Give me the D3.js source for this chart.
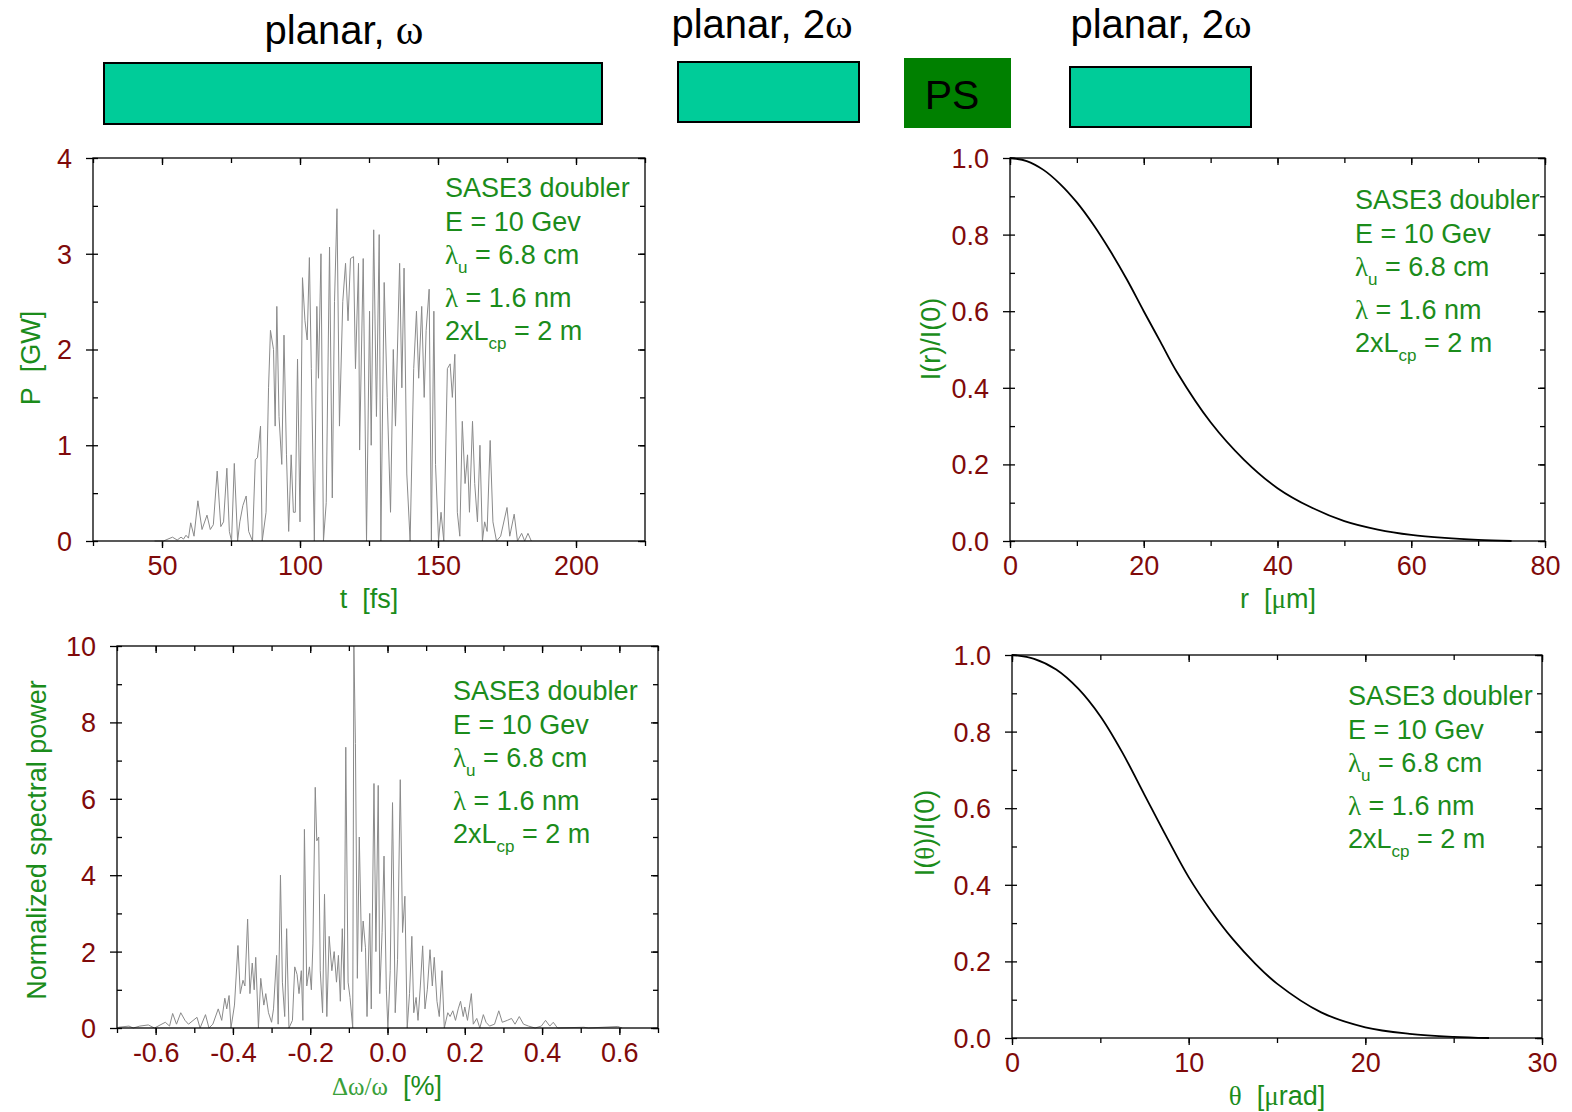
<!DOCTYPE html>
<html>
<head>
<meta charset="utf-8">
<script src="https://cdn.jsdelivr.net/npm/d3@7"></script>
<style>
  body { margin: 0; background: #fff; }
  svg { display: block; }
  text { font-family: "Liberation Sans", Arial, sans-serif; }
</style>
</head>
<body>
<svg id="canvas" width="1572" height="1112"></svg>
<script>
// undulator sections shown above the plots
const sectionLabels = ["planar, ", "planar, 2", "planar, 2"];
const paramLines = ["SASE3 doubler", "E = 10 Gev", "lu", "λ = 1.6 nm", "Lcp"];

// temporal power, t [fs] / P [GW]
const pulseT = [47.3, 50.5, 53.8, 55.5, 56.9, 57.8, 58.7, 59.6, 60.4, 61.6, 63, 64.5, 66.3, 67.5, 68.6, 70, 71.3, 72.3, 73.5, 74.4, 75.2, 76.2, 77.4, 78.2, 79.3, 80.5, 81.4, 82.8, 83.8, 84.6, 85.7, 86.3, 87.7, 88.6, 89.3, 90.4, 91, 91.6, 92.4, 93.4, 94.2, 95.1, 95.9, 96.8, 97.6, 98.3, 99.1, 100, 100.9, 101.8, 102.6, 103.4, 104.1, 105.2, 106.1, 106.7, 107.6, 108.5, 109.5, 110.7, 111.7, 112.5, 113.4, 114.3, 115.5, 116.5, 117.4, 118.3, 119.4, 120.1, 121.2, 121.6, 122.9, 124.1, 125.2, 125.8, 126.7, 127.7, 128.7, 129.3, 130.5, 131.6, 132.8, 133.8, 134.6, 136.1, 136.9, 137.7, 138.7, 139.9, 141.2, 142.2, 143, 144.1, 145, 145.7, 146.8, 147.6, 148.5, 149.1, 150.2, 151.1, 152.1, 153.4, 154.4, 155.2, 156.1, 157, 157.9, 158.8, 159.8, 160.7, 161.4, 162.5, 163.3, 164.3, 165.2, 166.1, 166.9, 167.8, 168.9, 169.9, 171.2, 172.7, 175, 176, 177.6, 178.8, 180.3, 181.4, 182.6, 183.8];
const pulseP = [0.0, 0.0, 0.04, 0.01, 0.04, 0.02, 0.06, 0.03, 0.19, 0.05, 0.42, 0.12, 0.27, 0.12, 0.17, 0.73, 0.15, 0.2, 0.76, 0.1, 0.0, 0.81, 0.0, 0.2, 0.37, 0.47, 0.1, 0.0, 0.85, 0.87, 1.2, 0.0, 0.3, 1.6, 2.2, 2.0, 1.2, 2.45, 1.3, 0.8, 2.15, 0.9, 0.1, 0.9, 0.3, 0.3, 1.9, 0.2, 2.75, 2.3, 2.1, 2.96, 1.8, 0.0, 2.45, 1.7, 3.0, 0.0, 0.4, 3.07, 0.45, 2.5, 3.47, 1.2, 2.5, 2.9, 2.3, 2.95, 2.97, 1.8, 2.9, 0.95, 2.95, 0.0, 2.4, 1.0, 3.25, 1.3, 3.2, 0.0, 2.7, 1.5, 0.3, 2.0, 1.2, 2.9, 1.6, 2.85, 0.7, 0.0, 1.8, 2.4, 1.7, 2.45, 1.5, 2.2, 2.63, 0.0, 2.4, 0.8, 0.0, 0.3, 0.0, 1.8, 1.85, 1.5, 1.95, 0.3, 0.05, 1.25, 0.6, 0.9, 0.3, 1.25, 0.6, 0.2, 1.0, 0.0, 0.2, 0.1, 1.05, 0.2, 0.0, 0.05, 0.35, 0.05, 0.28, 0.0, 0.08, 0.0, 0.08, 0.0];

// spectrum, dw/w [%] / normalized spectral power
const specW = [-0.696, -0.669, -0.658, -0.641, -0.619, -0.603, -0.575, -0.564, -0.556, -0.546, -0.535, -0.524, -0.515, -0.493, -0.485, -0.471, -0.462, -0.452, -0.438, -0.429, -0.421, -0.416, -0.41, -0.405, -0.396, -0.387, -0.381, -0.374, -0.369, -0.362, -0.356, -0.35, -0.345, -0.341, -0.334, -0.328, -0.32, -0.315, -0.308, -0.3, -0.295, -0.287, -0.283, -0.277, -0.272, -0.266, -0.261, -0.255, -0.246, -0.24, -0.234, -0.229, -0.223, -0.219, -0.215, -0.209, -0.202, -0.197, -0.193, -0.187, -0.183, -0.178, -0.174, -0.168, -0.163, -0.157, -0.151, -0.144, -0.138, -0.132, -0.127, -0.122, -0.117, -0.112, -0.108, -0.102, -0.097, -0.09, -0.087, -0.083, -0.078, -0.073, -0.067, -0.063, -0.057, -0.053, -0.046, -0.042, -0.035, -0.03, -0.024, -0.02, -0.014, -0.009, -0.003, 0.001, 0.007, 0.013, 0.02, 0.026, 0.033, 0.039, 0.045, 0.051, 0.057, 0.063, 0.068, 0.074, 0.079, 0.085, 0.091, 0.097, 0.103, 0.11, 0.116, 0.121, 0.128, 0.134, 0.141, 0.147, 0.156, 0.162, 0.169, 0.176, 0.183, 0.189, 0.196, 0.2, 0.207, 0.217, 0.222, 0.231, 0.239, 0.248, 0.255, 0.264, 0.277, 0.288, 0.297, 0.31, 0.321, 0.33, 0.341, 0.352, 0.365, 0.382, 0.398, 0.409, 0.42, 0.429, 0.44, 0.508, 0.52, 0.596, 0.607];
const specP = [0.02, 0.05, 0.0, 0.05, 0.08, 0.0, 0.15, 0.05, 0.38, 0.1, 0.4, 0.2, 0.1, 0.28, 0.0, 0.35, 0.0, 0.1, 0.5, 0.2, 0.78, 0.5, 0.85, 0.0, 0.6, 2.16, 0.9, 1.25, 1.1, 2.85, 0.9, 1.7, 1.0, 1.85, 0.0, 1.3, 0.6, 0.9, 0.4, 0.15, 0.5, 1.9, 0.1, 4.0, 1.2, 0.3, 2.6, 0.0, 0.2, 1.6, 1.4, 0.9, 1.5, 0.2, 5.2, 1.1, 1.6, 1.0, 2.2, 6.3, 4.9, 5.0, 1.5, 0.4, 3.5, 0.3, 2.4, 1.5, 2.0, 1.2, 1.9, 0.7, 2.6, 1.0, 7.35, 1.2, 0.8, 0.0, 10.0, 7.45, 1.3, 5.0, 2.0, 2.8, 2.1, 0.3, 3.0, 0.5, 6.4, 2.0, 6.35, 0.9, 2.5, 4.5, 1.0, 0.0, 1.5, 5.9, 0.4, 1.8, 6.5, 2.5, 3.45, 0.0, 0.9, 2.4, 0.4, 0.8, 0.2, 1.1, 2.15, 0.5, 1.0, 2.05, 1.1, 1.85, 0.7, 0.3, 1.5, 0.0, 0.4, 0.3, 0.45, 0.2, 0.5, 0.7, 0.3, 0.55, 0.2, 0.9, 0.1, 0.25, 0.0, 0.35, 0.15, 0.05, 0.1, 0.45, 0.15, 0.2, 0.25, 0.1, 0.3, 0.1, 0.05, 0.0, 0.05, 0.2, 0.05, 0.15, 0.0, 0.02, 0.0, 0.04, 0.0];

// transverse intensity, r [um]
const radR = [0, 2.5, 5, 7.5, 10, 12.5, 15, 17.5, 20, 22.5, 25, 30, 35, 40, 45, 50, 55, 60, 65, 70, 75];
const radI = [1.0, 0.992, 0.969, 0.932, 0.884, 0.825, 0.757, 0.682, 0.60, 0.52, 0.44, 0.31, 0.212, 0.138, 0.088, 0.052, 0.03, 0.016, 0.008, 0.003, 0.0];

// angular intensity, theta [urad]
const angT = [0, 1.25, 2.5, 3.75, 5, 6.25, 7.5, 8.75, 10, 11.25, 12.5, 13.75, 15, 17.5, 20, 22.5, 25, 27];
const angI = [1.0, 0.99, 0.962, 0.912, 0.84, 0.745, 0.635, 0.525, 0.42, 0.333, 0.258, 0.195, 0.142, 0.067, 0.028, 0.011, 0.003, 0.0];

const pulseTicks = [50, 100, 150, 200];
const specTicks = [-0.6, -0.4, -0.2, 0.0, 0.2, 0.4, 0.6];
const radTicks = [0, 20, 40, 60, 80];
const angTicks = [0, 10, 20, 30];

const green = "#1b8c1b";
const red = "#7f0a0a";
const serif = "'Liberation Serif', 'DejaVu Serif', serif";
const fs = 27;

let svg = d3.select("#canvas");

// ---- schematic on top
svg.append("rect").attr("x", 104).attr("y", 63).attr("width", 498).attr("height", 61)
  .attr("fill", "#00cc99").attr("stroke", "#000").attr("stroke-width", 2);
svg.append("rect").attr("x", 678).attr("y", 62).attr("width", 181).attr("height", 60)
  .attr("fill", "#00cc99").attr("stroke", "#000").attr("stroke-width", 2);
svg.append("rect").attr("x", 904).attr("y", 58).attr("width", 107).attr("height", 70)
  .attr("fill", "#008000");
svg.append("text").attr("x", 952).attr("y", 109).attr("text-anchor", "middle")
  .attr("font-size", 41).attr("fill", "#000").text("PS");
svg.append("rect").attr("x", 1070).attr("y", 67).attr("width", 181).attr("height", 60)
  .attr("fill", "#00cc99").attr("stroke", "#000").attr("stroke-width", 2);

[[344, 44, sectionLabels[0]], [762, 38, sectionLabels[1]], [1161, 38, sectionLabels[2]]].forEach(d => {
  let t = svg.append("text").attr("x", d[0]).attr("y", d[1]).attr("text-anchor", "middle")
    .attr("font-size", 40).attr("fill", "#000");
  t.append("tspan").text(d[2]);
  t.append("tspan").attr("font-family", serif).attr("font-size", 42).text("ω");
});

let numFmt = (spec) => (v) => d3.format(spec)(v).replace("−", "-");

// ---- generic framed panel
let drawPanel = (cfg) => {
  let g = svg.append("g");
  let x = d3.scaleLinear().domain(cfg.xd).range([cfg.l, cfg.r]);
  let y = d3.scaleLinear().domain(cfg.yd).range([cfg.b, cfg.t]);

  let styleAxis = (sel) => {
    sel.select(".domain").remove();
    sel.selectAll("line").attr("stroke", "#000").attr("stroke-width", 1.3);
  };

  // minor ticks
  g.append("g").attr("transform", `translate(0,${cfg.b})`)
    .call(d3.axisBottom(x).tickValues(cfg.xMinor).tickSize(5).tickFormat("")).call(styleAxis);
  g.append("g").attr("transform", `translate(0,${cfg.t})`)
    .call(d3.axisBottom(x).tickValues(cfg.xMinor).tickSize(5).tickFormat("")).call(styleAxis);
  g.append("g").attr("transform", `translate(${cfg.l},0)`)
    .call(d3.axisRight(y).tickValues(cfg.yMinor).tickSize(5).tickFormat("")).call(styleAxis);
  g.append("g").attr("transform", `translate(${cfg.r},0)`)
    .call(d3.axisLeft(y).tickValues(cfg.yMinor).tickSize(5).tickFormat("")).call(styleAxis);

  // major ticks with labels
  let bx = g.append("g").attr("transform", `translate(0,${cfg.b})`)
    .call(d3.axisBottom(x).tickValues(cfg.xTicks).tickSize(7).tickFormat(cfg.xFmt)).call(styleAxis);
  bx.selectAll("text").attr("y", 25).attr("dy", "0.35em").attr("font-size", fs)
    .attr("font-family", "'Liberation Sans', Arial, sans-serif").attr("fill", red);
  g.append("g").attr("transform", `translate(0,${cfg.t})`)
    .call(d3.axisBottom(x).tickValues(cfg.xTicks).tickSize(7).tickFormat("")).call(styleAxis);
  let ly = g.append("g").attr("transform", `translate(${cfg.l},0)`)
    .call(d3.axisLeft(y).tickValues(cfg.yTicks).tickSize(7).tickFormat(cfg.yFmt)).call(styleAxis);
  ly.selectAll("text").attr("x", -21).attr("dy", "0.35em").attr("font-size", fs)
    .attr("font-family", "'Liberation Sans', Arial, sans-serif").attr("fill", red);
  g.append("g").attr("transform", `translate(${cfg.r},0)`)
    .call(d3.axisLeft(y).tickValues(cfg.yTicks).tickSize(7).tickFormat("")).call(styleAxis);

  // data
  let pts = cfg.xs.map((v, i) => [v, cfg.ys[i]]);
  g.append("path").datum(pts)
    .attr("d", d3.line().x(d => x(d[0])).y(d => y(d[1])).curve(cfg.curve))
    .attr("fill", "none").attr("stroke", cfg.color).attr("stroke-width", cfg.width)
    .attr("stroke-linejoin", "round");

  // frame
  g.append("rect").attr("x", cfg.l).attr("y", cfg.t).attr("width", cfg.r - cfg.l).attr("height", cfg.b - cfg.t)
    .attr("fill", "none").attr("stroke", "#000").attr("stroke-width", 1.3);

  // parameter box
  let tx = cfg.tx, ty = cfg.ty, step = 33.5;
  let addLine = (yy) => g.append("text").attr("x", tx).attr("y", yy).attr("font-size", fs).attr("fill", green);
  addLine(ty).text(paramLines[0]);
  addLine(ty + step).text(paramLines[1]);
  let l3 = addLine(ty + 2 * step);
  l3.append("tspan").attr("font-family", serif).text("λ");
  l3.append("tspan").attr("font-size", 17).attr("dy", 9).text("u");
  l3.append("tspan").attr("dy", -9).text(" = 6.8 cm");
  let l4 = addLine(ty + 3 * step + 9);
  l4.append("tspan").attr("font-family", serif).text("λ");
  l4.append("tspan").text(" = 1.6 nm");
  let l5 = addLine(ty + 4 * step + 9);
  l5.append("tspan").text("2xL");
  l5.append("tspan").attr("font-size", 17).attr("dy", 9).text("cp");
  l5.append("tspan").attr("dy", -9).text(" = 2 m");

  // axis titles
  let xt = g.append("text").attr("x", (cfg.l + cfg.r) / 2).attr("y", cfg.b + 67)
    .attr("text-anchor", "middle").attr("font-size", fs).attr("fill", green);
  cfg.xTitle(xt);
  let yt = g.append("text").attr("transform", `translate(${cfg.ytx},${cfg.yty}) rotate(-90)`)
    .attr("text-anchor", "middle").attr("font-size", fs).attr("fill", green);
  cfg.yTitle(yt);
};

drawPanel({
  l: 93, r: 645, t: 158, b: 541,
  xd: [25, 225], yd: [0, 4],
  xTicks: pulseTicks, xMinor: d3.range(25, 226, 25), xFmt: numFmt("d"),
  yTicks: [0, 1, 2, 3, 4], yMinor: d3.range(0, 4.01, 0.5), yFmt: numFmt("d"),
  xs: pulseT, ys: pulseP, curve: d3.curveLinear, color: "#8a8a8a", width: 1,
  tx: 445, ty: 197,
  ytx: 40, yty: 358,
  xTitle: (t) => t.attr("x", 369).text("t\u00a0\u00a0[fs]"),
  yTitle: (t) => t.text("P\u00a0\u00a0[GW]")
});

drawPanel({
  l: 1010, r: 1545, t: 158, b: 541,
  xd: [0, 80], yd: [0, 1],
  xTicks: radTicks, xMinor: d3.range(0, 81, 10), xFmt: numFmt("d"),
  yTicks: [0, 0.2, 0.4, 0.6, 0.8, 1.0], yMinor: d3.range(0, 1.001, 0.1), yFmt: numFmt(".1f"),
  xs: radR, ys: radI, curve: d3.curveCatmullRom.alpha(0.5), color: "#000", width: 1.8,
  tx: 1355, ty: 209,
  ytx: 940, yty: 339,
  xTitle: (t) => {
    t.attr("x", 1278).text("r\u00a0\u00a0[");
    t.append("tspan").attr("font-family", serif).text("μ");
    t.append("tspan").text("m]");
  },
  yTitle: (t) => t.text("I(r)/I(0)")
});

drawPanel({
  l: 117, r: 658, t: 646, b: 1028,
  xd: [-0.7, 0.7], yd: [0, 10],
  xTicks: specTicks, xMinor: d3.range(-7, 8, 1).map(v => v / 10), xFmt: numFmt(".1f"),
  yTicks: [0, 2, 4, 6, 8, 10], yMinor: d3.range(0, 10.01, 1), yFmt: numFmt("d"),
  xs: specW, ys: specP, curve: d3.curveLinear, color: "#8a8a8a", width: 1,
  tx: 453, ty: 700,
  ytx: 46, yty: 840,
  xTitle: (t) => {
    t.attr("x", 387);
    t.append("tspan").attr("font-family", serif).attr("font-size", 25).attr("fill", "#3aa03a").text("Δω/ω");
    t.append("tspan").text("\u00a0\u00a0[%]");
  },
  yTitle: (t) => t.text("Normalized spectral power")
});

drawPanel({
  l: 1012, r: 1542, t: 655, b: 1038,
  xd: [0, 30], yd: [0, 1],
  xTicks: angTicks, xMinor: d3.range(0, 31, 5), xFmt: numFmt("d"),
  yTicks: [0, 0.2, 0.4, 0.6, 0.8, 1.0], yMinor: d3.range(0, 1.001, 0.1), yFmt: numFmt(".1f"),
  xs: angT, ys: angI, curve: d3.curveCatmullRom.alpha(0.5), color: "#000", width: 1.8,
  tx: 1348, ty: 705,
  ytx: 934, yty: 833,
  xTitle: (t) => {
    t.attr("x", 1277);
    t.append("tspan").attr("font-family", serif).text("θ");
    t.append("tspan").text("\u00a0\u00a0[");
    t.append("tspan").attr("font-family", serif).text("μ");
    t.append("tspan").text("rad]");
  },
  yTitle: (t) => {
    t.append("tspan").text("I(");
    t.append("tspan").attr("font-family", serif).text("θ");
    t.append("tspan").text(")/I(0)");
  }
});
</script>
</body>
</html>
